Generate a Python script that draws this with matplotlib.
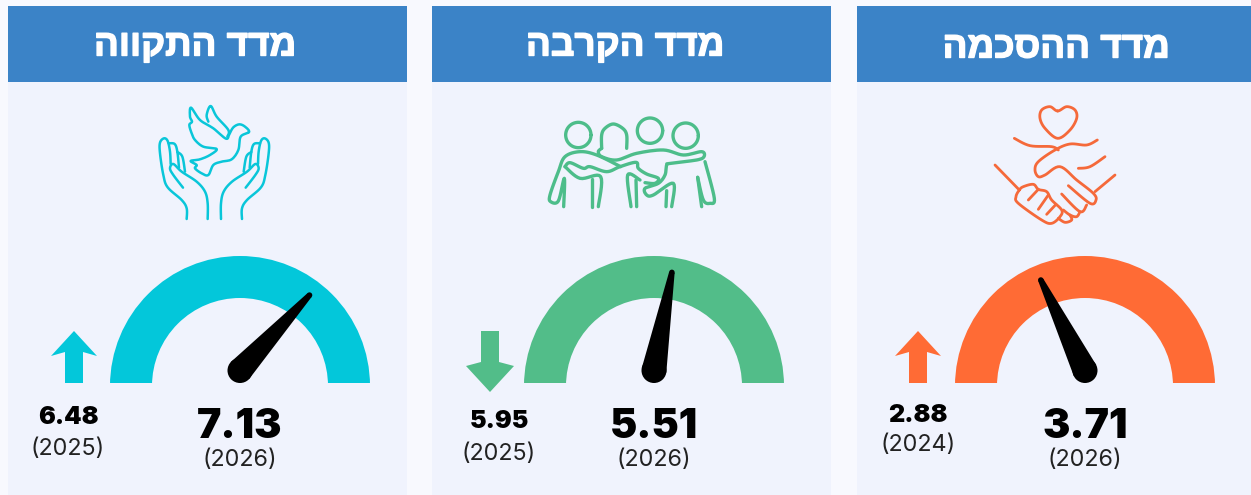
import numpy as np
import matplotlib.pyplot as plt
import matplotlib.patheffects as pe
from matplotlib.patches import Rectangle, Wedge, Circle, Polygon

# Data
titles = ["מדד התקווה", "מדד הקרבה", "מדד ההסכמה"]
current_values = [7.13, 5.51, 3.71]
current_years = ["(2026)", "(2026)", "(2026)"]
previous_values = [6.48, 5.95, 2.88]
previous_years = ["(2025)", "(2025)", "(2024)"]
scale_max = 10

colors = ["#03c7da", "#52bd89", "#ff6b35"]
icon_colors = ["#09c6d9", "#4dbd8a", "#f5693a"]
panel_left = [8, 432, 857]
title_x = [195, 625, 1056]
title_y = [46, 46, 48]
gauge_x = [240, 654, 1085]
arrow_x = [74, 490, 918]
prev_x = [68, 499, 918]
prev_y = [417, 422, 415]
prev_year_y = [449, 454, 445]
HEADER = "#3b83c7"
BODY = "#f0f3fd"
PAGE = "#f8f9fe"
GAUGE_Y = 383
FONT = "Inter"


def smooth(points, steps=8):
    # Catmull-Rom through the traced points
    pts = np.array(points, dtype=float)
    closed = np.allclose(pts[0], pts[-1])
    if closed:
        ext = np.vstack([pts[-2], pts, pts[1]])
    else:
        ext = np.vstack([pts[0], pts, pts[-1]])
    out = [pts[0]]
    for k in range(1, len(ext) - 2):
        p0, p1, p2, p3 = ext[k - 1], ext[k], ext[k + 1], ext[k + 2]
        for t in np.linspace(0, 1, steps + 1)[1:]:
            out.append(0.5 * (2 * p1 + (p2 - p0) * t + (2 * p0 - 5 * p1 + 4 * p2 - p3) * t ** 2
                              + (3 * p1 - p0 - 3 * p2 + p3) * t ** 3))
    return np.array(out)


def draw_lines(ax, lines, origin, color, lw=1.9):
    for line in lines:
        p = smooth(line) / 3 + origin
        ax.plot(p[:, 0], p[:, 1], color=color, lw=lw, solid_capstyle="round", solid_joinstyle="round")


def circle_line(cx, cy, r):
    a = np.linspace(0, 2 * np.pi, 13)
    return list(zip(cx + r * np.cos(a), cy + r * np.sin(a)))


def hope_icon(ax, color):
    hand = [
        [(560, 657), (560, 625), (545, 600), (503, 562), (490, 525), (480, 460), (480, 428), (492, 415),
         (503, 423), (510, 455), (512, 492)],
        [(506, 430), (524, 432), (532, 455), (537, 503)],
        [(532, 456), (547, 470), (555, 515)],
        [(549, 563), (520, 525), (510, 505), (520, 492), (545, 515), (590, 545), (615, 575), (623, 610),
         (623, 657)],
    ]
    mirrored = [[(1286 - x, y) for x, y in line] for line in hand]
    dove = [
        [(747, 396), (735, 380), (718, 373), (700, 382), (688, 402), (678, 416), (640, 385), (600, 360),
         (573, 323), (570, 350), (576, 365), (568, 375), (575, 400), (585, 420), (610, 440), (650, 447),
         (630, 465), (600, 478), (572, 483), (590, 495), (585, 505), (605, 520), (625, 525), (640, 495),
         (665, 485), (695, 478), (715, 450), (722, 410), (747, 396)],
        [(682, 410), (685, 390), (650, 350), (632, 318), (620, 345), (625, 365)],
    ]
    draw_lines(ax, hand + mirrored + dove, (0, 0), color, lw=1.8)


def closeness_icon(ax, color):
    lines = [
        circle_line(145, 105, 38),
        circle_line(360, 92, 38),
        circle_line(467, 107, 38),
        [(215, 145), (215, 105), (225, 85), (250, 72), (278, 85), (290, 105), (290, 145)],
        [(272, 200), (200, 165), (150, 155), (105, 170), (85, 215), (60, 285), (62, 305), (85, 303),
         (103, 235), (101, 320)],
        [(105, 200), (120, 188), (160, 205), (180, 200), (230, 215), (270, 200), (318, 187), (325, 205),
         (350, 222), (385, 235), (375, 250), (345, 248)],
        [(215, 145), (205, 155), (215, 170), (260, 180), (320, 160), (400, 150), (460, 165), (515, 155),
         (522, 170), (500, 180), (420, 190), (410, 195), (405, 225), (385, 250), (345, 265), (350, 285),
         (370, 285), (430, 250), (425, 320)],
        [(105, 200), (150, 235), (212, 230), (205, 320)],
        [(185, 320), (185, 237)],
        [(303, 320), (293, 225), (330, 240)],
        [(320, 320), (318, 240)],
        [(408, 320), (410, 272)],
        [(503, 232), (515, 320)],
        [(503, 232), (520, 300), (540, 310), (553, 295), (525, 185)],
    ]
    draw_lines(ax, lines, (530, 100), color, lw=2.4)


def agreement_icon(ax, color):
    lines = [
        [(233, 48), (210, 35), (185, 45), (180, 70), (195, 100), (233, 130), (270, 105), (290, 70),
         (285, 45), (260, 35), (233, 48)],
        [(103, 130), (150, 152), (215, 155), (235, 165)],
        [(352, 135), (320, 150), (270, 147), (225, 165), (175, 200), (165, 225), (175, 245), (195, 240),
         (240, 215), (290, 255), (340, 295), (348, 315), (330, 325), (265, 272)],
        [(295, 220), (330, 215), (375, 185)],
        [(405, 240), (345, 290)],
        [(45, 210), (118, 285)],
        [(118, 285), (108, 305), (115, 325), (185, 375), (215, 385), (240, 365), (245, 345), (215, 315),
         (200, 290), (175, 283), (160, 268), (130, 275), (118, 285)],
        [(145, 315), (175, 283)],
        [(175, 343), (205, 300)],
        [(200, 358), (228, 328)],
        [(245, 297), (300, 350), (320, 330)],
        [(300, 350), (290, 365), (270, 360), (250, 345)],
        [(235, 370), (255, 382), (275, 375), (270, 360)],
    ]
    draw_lines(ax, lines, (980, 95), color, lw=2.0)


def draw_gauge(ax, cx, value, color):
    # y axis is flipped, so the upper half is 180..360 here; ring is cut flat at GAUGE_Y
    ring = Wedge((cx, GAUGE_Y + 3), 130, 180, 360, width=42, color=color, lw=0)
    ax.add_patch(ring)
    ring.set_clip_path(Rectangle((cx - 140, 240), 280, GAUGE_Y - 240, transform=ax.transData))
    angle = np.pi * (1 - value / scale_max)
    d = np.array([np.cos(angle), -np.sin(angle)])
    base = np.array([cx, GAUGE_Y - 12.5])
    tip = np.array([cx, GAUGE_Y], dtype=float) + d * 112
    u = (tip - base) / np.linalg.norm(tip - base)
    n = np.array([u[1], -u[0]])
    r_base, r_tip = 12.5, 2.8
    ax.add_patch(Polygon([base + n * r_base, tip + n * r_tip, tip - n * r_tip, base - n * r_base],
                         color="black", lw=0, zorder=3))
    ax.add_patch(Circle(base, r_base, color="black", lw=0, zorder=3))
    ax.add_patch(Circle(tip, r_tip, color="black", lw=0, zorder=3))


def draw_arrow(ax, cx, up, color):
    if up:
        pts = [(0, 331), (23, 356), (9, 352), (9, 383), (-9, 383), (-9, 352), (-23, 356)]
    else:
        pts = [(0, 392), (24, 366), (9, 362), (9, 331), (-9, 331), (-9, 362), (-24, 366)]
    ax.add_patch(Polygon([(cx + x, y) for x, y in pts], color=color, lw=0))


fig = plt.figure(figsize=(12.51, 4.95), dpi=100, facecolor=PAGE)
ax = fig.add_axes([0, 0, 1, 1])
ax.set_xlim(0, 1251)
ax.set_ylim(495, 0)
ax.axis("off")

for i in range(3):
    ax.add_patch(Rectangle((panel_left[i], 82), 399, 413, color=BODY, lw=0))
    ax.add_patch(Rectangle((panel_left[i], 6), 399, 76, color=HEADER, lw=0))
    # matplotlib has no bidi layout, so Hebrew goes in reversed
    t = ax.text(title_x[i], title_y[i], titles[i][::-1], color="white", fontsize=26.5, fontweight="bold",
                family="Liberation Sans", ha="center", va="center")
    t.set_path_effects([pe.withStroke(linewidth=1.0, foreground="white")])

    draw_gauge(ax, gauge_x[i], current_values[i], colors[i])
    draw_arrow(ax, arrow_x[i], current_values[i] > previous_values[i], colors[i])

    ax.text(gauge_x[i], 427, f"{current_values[i]:.2f}", fontsize=29.5, fontweight="black", family=FONT,
            ha="center", va="center", color="black")
    ax.text(gauge_x[i], 460, current_years[i], fontsize=16.8, family=FONT, ha="center", va="center",
            color="#222222")
    ax.text(prev_x[i], prev_y[i], f"{previous_values[i]:.2f}", fontsize=18, fontweight="black", family=FONT,
            ha="center", va="center", color="black")
    ax.text(prev_x[i], prev_year_y[i], previous_years[i], fontsize=16.8, family=FONT, ha="center",
            va="center", color="#222222")

hope_icon(ax, icon_colors[0])
closeness_icon(ax, icon_colors[1])
agreement_icon(ax, icon_colors[2])

fig.savefig("out.png", dpi=100, facecolor=PAGE)
